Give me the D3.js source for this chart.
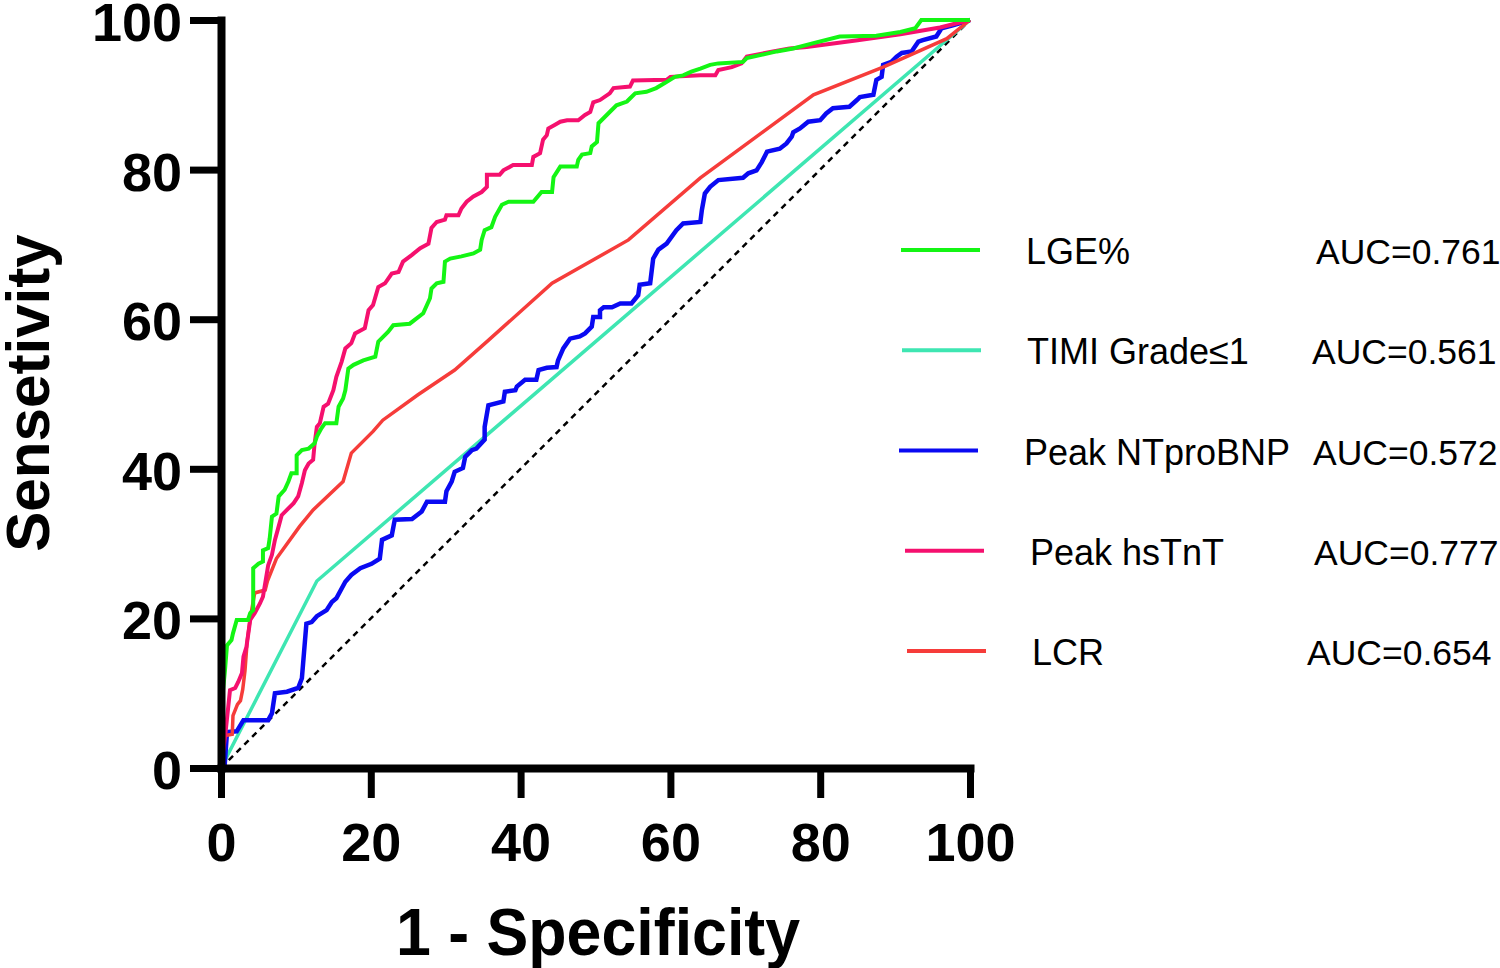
<!DOCTYPE html>
<html>
<head>
<meta charset="utf-8">
<script src="https://cdn.jsdelivr.net/npm/d3@7"></script>
<style>
  body { margin: 0; background: #fff; }
  svg { display: block; font-family: "Liberation Sans", Arial, sans-serif; }
</style>
</head>
<body>
<div id="wrapper"></div>
<script>
// ROC curves, values as [1 - specificity, sensitivity] in %
const xTicks = [0, 20, 40, 60, 80, 100];
const yTicks = [0, 20, 40, 60, 80, 100];

const seriesNames = ["LGE%", "TIMI Grade≤1", "Peak NTproBNP", "Peak hsTnT", "LCR"];
const seriesAuc = ["AUC=0.761", "AUC=0.561", "AUC=0.572", "AUC=0.777", "AUC=0.654"];

const lgePoints = [[0,0],[0.1,8.7],[0.5,12.7],[0.8,16.4],[1.4,17.1],[1.6,18],[2.1,19.8],[3.6,19.8],[3.9,20.7],[4.3,21.1],[4.3,26.7],[5.0,27.3],[5.6,27.6],[5.6,29.1],[6.3,29.4],[6.5,30.7],[6.8,33.6],[7.4,34],[7.7,36.3],[8.5,37.2],[9,38.3],[9.4,39.4],[10.1,39.4],[10.1,41.8],[10.8,42.5],[11.7,42.7],[12.5,43.4],[12.8,44.3],[13.4,45.4],[13.9,46.1],[15.4,46.1],[15.7,48.3],[16.3,49.4],[16.6,50.5],[17,53.4],[17.7,53.9],[19,54.5],[20.6,55],[21,57],[22.3,58.3],[23,59.2],[25.2,59.4],[27,60.8],[27.9,62.8],[28.1,64.1],[28.8,64.8],[29.7,65],[29.9,67.7],[30.6,68.1],[32.1,68.4],[33.7,68.8],[34.6,69.3],[34.8,70.6],[35.2,71.9],[36.1,72.3],[36.6,73.7],[37.5,75.3],[38.4,75.7],[41.7,75.7],[42.8,77],[44.2,77],[44.4,79],[45.3,80.4],[47.5,80.4],[47.7,81.3],[48.2,82],[49.3,82.2],[49.5,83.1],[50.2,83.7],[50.4,86.2],[51.1,86.9],[51.7,87.5],[52.8,88.6],[54.2,89.1],[54.6,89.5],[55.3,90.2],[56.8,90.4],[58.1,90.9],[59.3,91.6],[60.6,92.4],[61.7,92.6],[62.8,93.1],[64,93.5],[65.3,94],[66.4,94.2],[69.7,94.4],[70.2,94.9],[74.2,95.8],[76.4,96.2],[79.1,96.9],[82.6,97.8],[87.5,97.9],[90.7,98.4],[92.7,98.9],[93.5,100],[100,100]];

const timiPoints = [[0,0],[12.8,25],[100,100]];

const ntprobnpPoints = [[0,0],[0.5,0.5],[0.8,4.8],[2.1,4.9],[3,6.4],[6.3,6.4],[6.8,7.3],[7.2,10],[8.8,10.2],[10.3,10.7],[10.8,12],[11.4,19.3],[12.1,19.5],[12.8,20.3],[14.1,21.1],[14.8,22.2],[15.4,22.7],[16.6,24.9],[17.4,25.8],[18.6,26.7],[20.1,27.3],[21.2,28],[21.5,30.5],[22.8,31.1],[23.2,33.2],[25.5,33.3],[26.8,34.3],[27.5,35.6],[29.9,35.6],[30.1,37],[30.8,38.3],[31.2,39.6],[32.3,40.1],[32.6,41.6],[33.5,42.5],[34.1,42.7],[35.2,43.9],[35.2,45.6],[35.7,48.5],[37.7,49],[37.9,50.3],[39.3,50.5],[39.5,51],[40.6,51.9],[42.1,51.9],[42.4,53.2],[43.5,53.5],[44.8,53.6],[45,54.5],[45.7,56.1],[46.6,57.4],[47.9,57.7],[48.6,58.1],[49.5,59],[49.7,60.3],[50.6,60.3],[50.6,61.2],[51.1,61.6],[52.2,61.6],[53.3,62.1],[54.8,62.1],[55.7,63.2],[55.9,64.6],[57.3,64.8],[57.7,68.1],[58.4,69.3],[59.5,70.1],[60.8,71.9],[61.7,72.8],[64,73],[64.2,74.6],[64.6,76.8],[65.3,77.7],[66.4,78.6],[69.7,78.9],[70.4,79.5],[71.5,79.9],[72.2,81],[72.9,82.4],[74.6,82.8],[75.5,83.5],[76.2,84.4],[76.4,85],[77.3,85.5],[78.4,86.4],[80,86.6],[80.8,87.5],[81.7,88.2],[83.9,88.4],[84.9,89.3],[85.3,89.7],[87.1,90],[87.5,92],[88.2,92.4],[88.4,94],[89.5,94.4],[90.2,95.1],[90.9,95.6],[92.2,95.8],[93.1,97.1],[93.7,97.3],[95.5,97.8],[96.2,98.9],[97.7,99.3],[98.7,99.6],[100,100]];

const hstntPoints = [[0,0],[0.6,4.7],[1.2,10.4],[1.9,10.7],[2.3,11.5],[2.8,12.7],[3,14.9],[3.4,16.2],[3.9,19.8],[4.5,20.7],[5.2,22],[5.6,22.9],[6.3,27.1],[6.8,28.5],[7.2,30.5],[7.7,32.3],[8.1,33.8],[8.8,34.5],[9.7,35.4],[10.3,36.3],[10.8,38.1],[11.2,39.8],[11.7,40.7],[12.3,41.2],[12.5,43.4],[12.8,45.6],[13.2,46.1],[13.7,48.3],[14.3,48.7],[15,50.5],[15.4,52.3],[16.1,54.3],[16.6,56.1],[17.4,56.8],[17.9,58.1],[19.2,58.8],[19.7,61.2],[20.3,61.9],[21,64.3],[21.9,64.8],[22.8,66.1],[23.7,66.3],[24.3,67.7],[25.5,68.6],[26.6,69.5],[27.7,70.1],[28.1,72.2],[28.8,73],[29.9,73.3],[30.1,73.9],[31.7,73.9],[32.1,74.8],[32.8,75.7],[33.7,76.4],[34.8,77],[35.5,77.7],[35.5,79.3],[37.2,79.3],[37.7,79.9],[39,80.6],[41.5,80.6],[41.7,81.7],[42.6,82.2],[43,84],[43.5,84.6],[43.7,85.5],[44.6,86],[45.3,86.4],[46.2,86.6],[47.7,86.6],[48.6,87.3],[49.3,87.7],[49.7,89],[50.6,89.3],[51.9,90.2],[52.4,90.9],[54.6,91.1],[55,91.9],[59.5,92],[60,92.4],[64,92.6],[66,92.6],[66.4,93.3],[68.2,93.7],[69.5,94.2],[70.2,95.1],[73.7,95.8],[75.9,96.2],[78.2,96.4],[85,97.3],[90.7,98.1],[96,99],[100,100]];

const lcrPoints = [[0,0],[0.4,4.3],[1.5,4.5],[1.6,7],[2.2,8.5],[2.6,9],[2.9,10.5],[3.2,13],[3.5,17],[3.9,20],[4.5,23.4],[5.9,23.8],[6.2,25],[7.4,28],[10.5,32.3],[12.3,34.5],[16.3,38.3],[17.4,42.1],[20.3,45],[21.6,46.5],[26.3,49.9],[31.2,53.2],[35.5,57],[44.2,64.8],[54.4,70.6],[64,78.9],[79.1,90],[88.4,93.7],[96.9,97.5],[100,100]];

const chancePoints = [[0,0],[100,100]];

function buildPlot() {
    const dimension = {
        width: 1500,
        height: 968,
        margin: { top: 20, left: 221, bottom: 200, right: 530 }
    };
    dimension.boundedWidth = dimension.width - dimension.margin.left - dimension.margin.right;
    dimension.boundedHeight = dimension.height - dimension.margin.top - dimension.margin.bottom;

    const svg = d3.select("#wrapper").append("svg")
        .attr("width", dimension.width)
        .attr("height", dimension.height);

    const xScaler = d3.scaleLinear()
        .domain([0, 100])
        .range([dimension.margin.left, dimension.margin.left + dimension.boundedWidth]);
    const yScaler = d3.scaleLinear()
        .domain([0, 100])
        .range([dimension.margin.top + dimension.boundedHeight, dimension.margin.top]);

    const line = d3.line()
        .x(d => xScaler(d[0]))
        .y(d => yScaler(d[1]));

    // chance line
    svg.append("path")
        .attr("d", line(chancePoints))
        .attr("fill", "none")
        .attr("stroke", "#000")
        .attr("stroke-width", 2.5)
        .attr("stroke-dasharray", "6,5");

    const curves = [
        { pts: timiPoints, color: "#3ee6b2", w: 3.5 },
        { pts: ntprobnpPoints, color: "#0a0af2", w: 4.5 },
        { pts: lcrPoints, color: "#f63c3a", w: 3.5 },
        { pts: hstntPoints, color: "#f5106e", w: 4 },
        { pts: lgePoints, color: "#14f514", w: 4 }
    ];
    curves.forEach(c => {
        svg.append("path")
            .attr("d", line(c.pts))
            .attr("fill", "none")
            .attr("stroke", c.color)
            .attr("stroke-width", c.w)
            .attr("stroke-linejoin", "miter");
    });

    // axes
    const yAxis = svg.append("g")
        .attr("transform", `translate(${dimension.margin.left},0)`)
        .call(d3.axisLeft(yScaler).tickValues(yTicks).tickSize(31).tickPadding(8).tickSizeOuter(0));
    const xAxis = svg.append("g")
        .attr("transform", `translate(0,${dimension.margin.top + dimension.boundedHeight})`)
        .call(d3.axisBottom(xScaler).tickValues(xTicks).tickSize(30).tickPadding(25).tickSizeOuter(0));

    [xAxis, yAxis].forEach(a => {
        a.select(".domain").attr("stroke", "#000").attr("stroke-width", 8).attr("stroke-linecap", "square");
        a.selectAll(".tick line").attr("stroke", "#000").attr("stroke-width", 7);
        a.selectAll(".tick text")
            .attr("fill", "#000")
            .style("font-family", "'Liberation Sans', Arial, sans-serif")
            .style("font-weight", "bold")
            .style("font-size", "54px");
    });
    yAxis.selectAll(".tick text").attr("dy", "0.38em");

    svg.append("text")
        .attr("transform", "translate(49,393) rotate(-90) scale(0.97,1)")
        .attr("text-anchor", "middle")
        .style("font-weight", "bold")
        .style("font-size", "62px")
        .text("Sensetivity");

    svg.append("text")
        .attr("transform", "translate(598,955) scale(0.95,1)")
        .attr("text-anchor", "middle")
        .style("font-weight", "bold")
        .style("font-size", "66px")
        .text("1 - Specificity");

    // legend (small per-row horizontal offsets as in the figure)
    const legendColors = ["#14f514", "#3ee6b2", "#0a0af2", "#f5106e", "#f63c3a"];
    const legendShift = [-1, 0, -3, 3, 5];
    const aucShift = [3, -1, 0, 1, -6];
    const legendY = d3.scalePoint().domain(seriesNames).range([250, 651]);
    const legend = svg.append("g");
    seriesNames.forEach((name, i) => {
        const yy = legendY(name);
        legend.append("line")
            .attr("x1", 902 + legendShift[i]).attr("x2", 981 + legendShift[i])
            .attr("y1", yy).attr("y2", yy)
            .attr("stroke", legendColors[i])
            .attr("stroke-width", 4);
        legend.append("text")
            .attr("x", 1027 + legendShift[i]).attr("y", yy + 14)
            .style("font-size", "36px")
            .text(name);
        legend.append("text")
            .attr("x", 1313 + aucShift[i]).attr("y", yy + 14)
            .style("font-size", "35.5px")
            .text(seriesAuc[i]);
    });
}

buildPlot();
</script>
</body>
</html>
